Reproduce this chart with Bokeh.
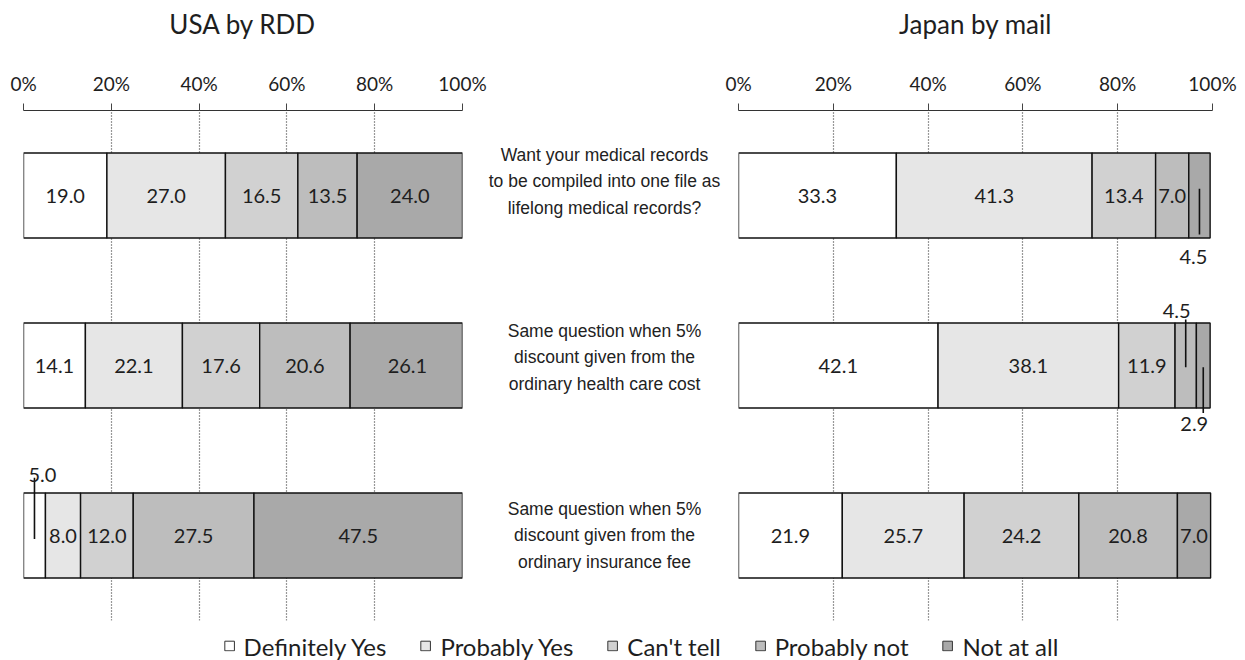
from bokeh.plotting import figure
from bokeh.models import ColumnDataSource, FixedTicker, Legend, LegendItem, Range1d, FactorRange
from bokeh.layouts import row, column
from bokeh.core.properties import value
from bokeh.embed import file_html
from bokeh.resources import INLINE

# ---------------- data ----------------
questions = ["Q1", "Q2", "Q3"]
question_texts = [
    "Want your medical records\nto be compiled into one file as\nlifelong medical records?",
    "Same question when 5%\ndiscount given from the\nordinary health care cost",
    "Same question when 5%\ndiscount given from the\nordinary insurance fee",
]
responses = ["Definitely Yes", "Probably Yes", "Can't tell", "Probably not", "Not at all"]

usa_definitely_yes = [19.0, 14.1, 5.0]
usa_probably_yes = [27.0, 22.1, 8.0]
usa_cant_tell = [16.5, 17.6, 12.0]
usa_probably_not = [13.5, 20.6, 27.5]
usa_not_at_all = [24.0, 26.1, 47.5]

japan_definitely_yes = [33.3, 42.1, 21.9]
japan_probably_yes = [41.3, 38.1, 25.7]
japan_cant_tell = [13.4, 11.9, 24.2]
japan_probably_not = [7.0, 4.5, 20.8]
japan_not_at_all = [4.5, 2.9, 7.0]

tick_values = [0, 20, 40, 60, 80, 100]
tick_labels = ["0%", "20%", "40%", "60%", "80%", "100%"]
panel_titles = ["USA by RDD", "Japan by mail"]

# ---------------- style ----------------
colors = ["#ffffff", "#e6e6e6", "#d1d1d1", "#bdbdbd", "#a9a9a9"]
TXT = "#1e1e1e"
FONT = "Lato"
TH = 46            # title strip height
H = 621 - TH       # panel height
TOP = 110 - TH
BOT = 1

usa = [usa_definitely_yes, usa_probably_yes, usa_cant_tell, usa_probably_not, usa_not_at_all]
japan = [japan_definitely_yes, japan_probably_yes, japan_cant_tell, japan_probably_not, japan_not_at_all]

# callouts for thin segments: (question index, response index) -> label pixel offsets, leader line offsets (category units)
usa_callouts = {(2, 0): dict(dx=8, dy=-61, y0=0.34, y1=-0.02)}
japan_callouts = {
    (0, 4): dict(dx=-6, dy=61, y0=0.04, y1=-0.23),
    (1, 3): dict(dx=-9, dy=-55, y0=0.27, y1=-0.01),
    (1, 4): dict(dx=-9, dy=58, y0=-0.01, y1=-0.28),
}


def blank(width, height, bl, br, bt, bb, xr=(0, 1)):
    f = figure(width=width, height=height, x_range=Range1d(*xr), y_range=Range1d(0, 1),
               x_axis_location=None, y_axis_location=None,
               toolbar_location=None, output_backend="svg",
               min_border_left=bl, min_border_right=br, min_border_top=bt, min_border_bottom=bb)
    f.outline_line_color = None
    f.grid.grid_line_color = None
    return f


def make_title(title, width, bl, br):
    t = blank(width, TH, bl, br, 0, 0, xr=(0, 100))
    t.text(x=[50], y=[0.5], text=[title], y_offset=0, text_align="center", text_baseline="middle",
           text_font=value(FONT), text_font_size="26px", text_color=TXT)
    return t


def make_panel(series, width, bl, br, callouts):
    keys = ["r%d" % j for j in range(len(responses))]
    data = dict(q=questions)
    for k, s in zip(keys, series):
        data[k] = s
    src = ColumnDataSource(data)
    p = figure(width=width, height=H,
               y_range=FactorRange(factors=list(reversed(questions))),
               x_range=Range1d(0, 100),
               x_axis_location="above", y_axis_location=None,
               toolbar_location=None, output_backend="svg",
               min_border_left=bl, min_border_right=br,
               min_border_top=TOP, min_border_bottom=BOT)
    p.outline_line_color = None

    ax = p.xaxis[0]
    ax.ticker = FixedTicker(ticks=tick_values)
    ax.major_label_overrides = {v: l for v, l in zip(tick_values, tick_labels)}
    ax.major_label_text_font = FONT
    ax.major_label_text_font_size = "19px"
    ax.major_label_text_color = TXT
    ax.major_label_standoff = 9
    ax.major_tick_out = 7
    ax.major_tick_in = 0
    ax.minor_tick_line_color = None
    ax.major_tick_line_color = "#444444"
    ax.axis_line_color = "#333333"
    ax.axis_line_width = 1.2

    p.ygrid.grid_line_color = None
    p.xgrid.ticker = FixedTicker(ticks=tick_values)
    p.xgrid.grid_line_color = "#333333"
    p.xgrid.grid_line_dash = "1 2"
    p.xgrid.grid_line_width = 1.2

    p.hbar_stack(keys, y="q", height=0.5, source=src, color=colors,
                 line_color="#111111", line_width=1.4)

    lx, ly, lt = [], [], []
    cx, cy, ct, cdx, cdy = [], [], [], [], []
    sx0, sy0, sx1, sy1 = [], [], [], []
    for i, q in enumerate(questions):
        left = 0.0
        for j in range(len(responses)):
            v = series[j][i]
            mid = left + v / 2.0
            txt = "%.1f" % v
            if (i, j) in callouts:
                c = callouts[(i, j)]
                cx.append(mid); cy.append(q); ct.append(txt)
                cdx.append(c["dx"]); cdy.append(c["dy"])
                sx0.append(mid); sy0.append((q, c["y0"]))
                sx1.append(mid); sy1.append((q, c["y1"]))
            else:
                lx.append(mid); ly.append(q); lt.append(txt)
            left += v
    p.text(x=lx, y=ly, text=lt, text_align="center", text_baseline="middle",
           text_font=value(FONT), text_font_size="20px", text_color=TXT)
    if cx:
        p.segment(x0=sx0, y0=sy0, x1=sx1, y1=sy1, line_color="#111111", line_width=1.6)
        p.text(x=cx, y=cy, text=ct, x_offset=cdx, y_offset=cdy,
               text_align="center", text_baseline="middle",
               text_font=value(FONT), text_font_size="20px", text_color=TXT)
    return p


LW, MW, RW = 487, 238, 520
left = make_panel(usa, LW, 23, 25, usa_callouts)
right = make_panel(japan, RW, 13, 33, japan_callouts)
left_title = make_title(panel_titles[0], LW, 23, 25)
right_title = make_title(panel_titles[1], RW, 13, 33)
mid_title = blank(MW, TH, 0, 0, 0, 0)

# middle question texts
mid = figure(width=MW, height=H, y_range=FactorRange(factors=list(reversed(questions))),
             x_range=Range1d(0, 1), x_axis_location=None, y_axis_location=None,
             toolbar_location=None, output_backend="svg",
             min_border_left=0, min_border_right=0, min_border_top=TOP, min_border_bottom=BOT)
mid.outline_line_color = None
mid.grid.grid_line_color = None
q_offsets = [-14, -8, 0]
for q, t, off in zip(questions, question_texts, q_offsets):
    mid.text(x=[0.5], y=[q], text=[t], x_offset=-2, y_offset=off,
             text_align="center", text_baseline="middle",
             text_font=value("Liberation Sans"), text_font_size="17.5px",
             text_color="#222222", text_line_height=1.33)

# legend strip
lf = blank(1245, 660 - 621, 36, 0, 10, 0)
items = []
for r, c in zip(responses, colors):
    rr = lf.rect(x=[5], y=[5], width=1, height=1, fill_color=c, line_color="#333333", line_width=1)
    items.append(LegendItem(label=r, renderers=[rr]))
leg = Legend(items=items, orientation="horizontal", location="center",
             glyph_width=12, glyph_height=12, label_standoff=9, spacing=33,
             label_text_font=FONT, label_text_font_size="24px", label_text_color=TXT,
             border_line_color=None, background_fill_alpha=0, padding=0, margin=0)
lf.add_layout(leg, "center")

layout = column(row(left_title, mid_title, right_title), row(left, mid, right), lf)

open("out.html", "w").write(file_html(layout, INLINE))
